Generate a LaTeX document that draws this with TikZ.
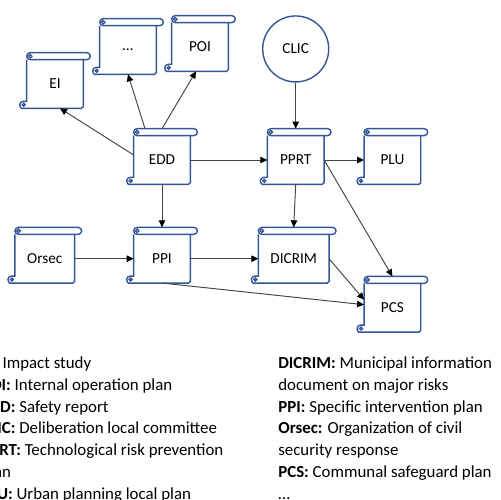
\documentclass[tikz,border=0pt]{standalone}
\usepackage{fontspec}
\setmainfont{Carlito}
\usetikzlibrary{arrows.meta,positioning}
\usepackage{xcolor}
\definecolor{docblue}{RGB}{52,86,150}
\definecolor{linkgray}{RGB}{70,70,70}

% scroll outline drawn round a node
\newcommand{\scrollshape}[1]{%
  \draw[docline, rounded corners=0.7mm] (#1.north west) rectangle ([shift={(1.4mm,1.4mm)}]#1.north east);
  \draw[docline] ([shift={(0.7mm,0.7mm)}]#1.north west) circle[radius=0.35mm];
  \draw[docline] (#1.north east) [rounded corners=1pt] -- (#1.south east)
    -- ([xshift=-0.7mm]#1.south west) [sharp corners]
    arc[start angle=270, end angle=90, radius=0.7mm]
    -- ([yshift=1.4mm]#1.south west) -- (#1.north west);
  \draw[docline] ([shift={(-0.6mm,0.7mm)}]#1.south west) circle[radius=0.3mm];
}

\begin{document}
\begin{tikzpicture}[
  x=0.2mm, y=-0.2mm,
  node distance=10mm,
  docline/.style={draw=docblue, line width=0.8pt},
  doc/.style={minimum width=11.2mm, minimum height=9.6mm, inner sep=1pt,
    font=\fontsize{8.7}{10}\selectfont,
    append after command={\pgfextra{\scrollshape{\tikzlastnode}}}},
  roundnode/.style={docline, circle, minimum size=13.2mm, inner sep=0pt,
    font=\fontsize{8.7}{10}\selectfont},
  arrow/.style={draw=linkgray, line width=0.55pt,
    -{Triangle[length=1.4mm, width=1.3mm, color=black]}},
  legend/.style={anchor=north west, align=left, inner sep=0pt,
    font=\fontsize{9.6}{12.5}\selectfont}
]
\useasboundingbox (0,0) rectangle (501,500);
\clip (0,0) rectangle (501,500);

\node[doc] (edd) at (162,160) {EDD};
\node[doc, right=15.4mm of edd] (pprt) {PPRT};
\node[doc, right=8mm of pprt] (plu) {PLU};
\node[roundnode, above=10.6mm of pprt] (clic) {CLIC};
\node[doc] (ei) at (55,84) {EI};
\node[doc] (etc) at (128,50) {\dots};
\node[doc] (poi) at (200,47) {POI};
\node[doc, below=of edd] (ppi) {PPI};
\node[doc, minimum width=11.8mm, left=11.8mm of ppi] (orsec) {Orsec};
\node[doc, minimum width=14mm, right=13.6mm of ppi] (dicrim) {DICRIM};
\node[doc, below=19.8mm of plu] (pcs) {PCS};

\draw[arrow] ([yshift=1mm]edd.west) -- ([xshift=1mm]ei.south);
\draw[arrow] ([shift={(-3.4mm,1.4mm)}]edd.north) -- (etc.south);
\draw[arrow] ([yshift=1.4mm]edd.north) -- ([xshift=-0.8mm]poi.south);
\draw[arrow] (edd.east) -- (pprt.west);
\draw[arrow] (clic) -- ([yshift=1.4mm]pprt.north);
\draw[arrow] (pprt.east) -- (plu.west);
\draw[arrow] (pprt.east) -- ([yshift=1.4mm]pcs.north);
\draw[arrow] (pprt.south) -- ([yshift=1.4mm]dicrim.north);
\draw[arrow] (edd.south) -- ([yshift=1.4mm]ppi.north);
\draw[arrow] (orsec.east) -- (ppi.west);
\draw[arrow] (ppi.east) -- (dicrim.west);
\draw[arrow] (ppi.south) -- ([yshift=0.6mm]pcs.west);
\draw[arrow] (dicrim.east) -- ([yshift=1.6mm]pcs.west);

\node[legend] (keyleft) at (-19,356) {%
  \textbf{EI:} Impact study\\
  \textbf{POI:} Internal operation plan\\
  \textbf{EDD:} Safety report\\
  \textbf{CLIC:} Deliberation local committee\\
  \textbf{PPRT:} Technological risk prevention\\
  plan\\
  \textbf{PLU:} Urban planning local plan};
\node[legend] (keyright) at (278,356) {%
  \textbf{DICRIM:} Municipal information\\
  document on major risks\\
  \textbf{PPI:} Specific intervention plan\\
  \textbf{Orsec:} Organization of civil\\
  security response\\
  \textbf{PCS:} Communal safeguard plan\\
  \dots};
\end{tikzpicture}
\end{document}
